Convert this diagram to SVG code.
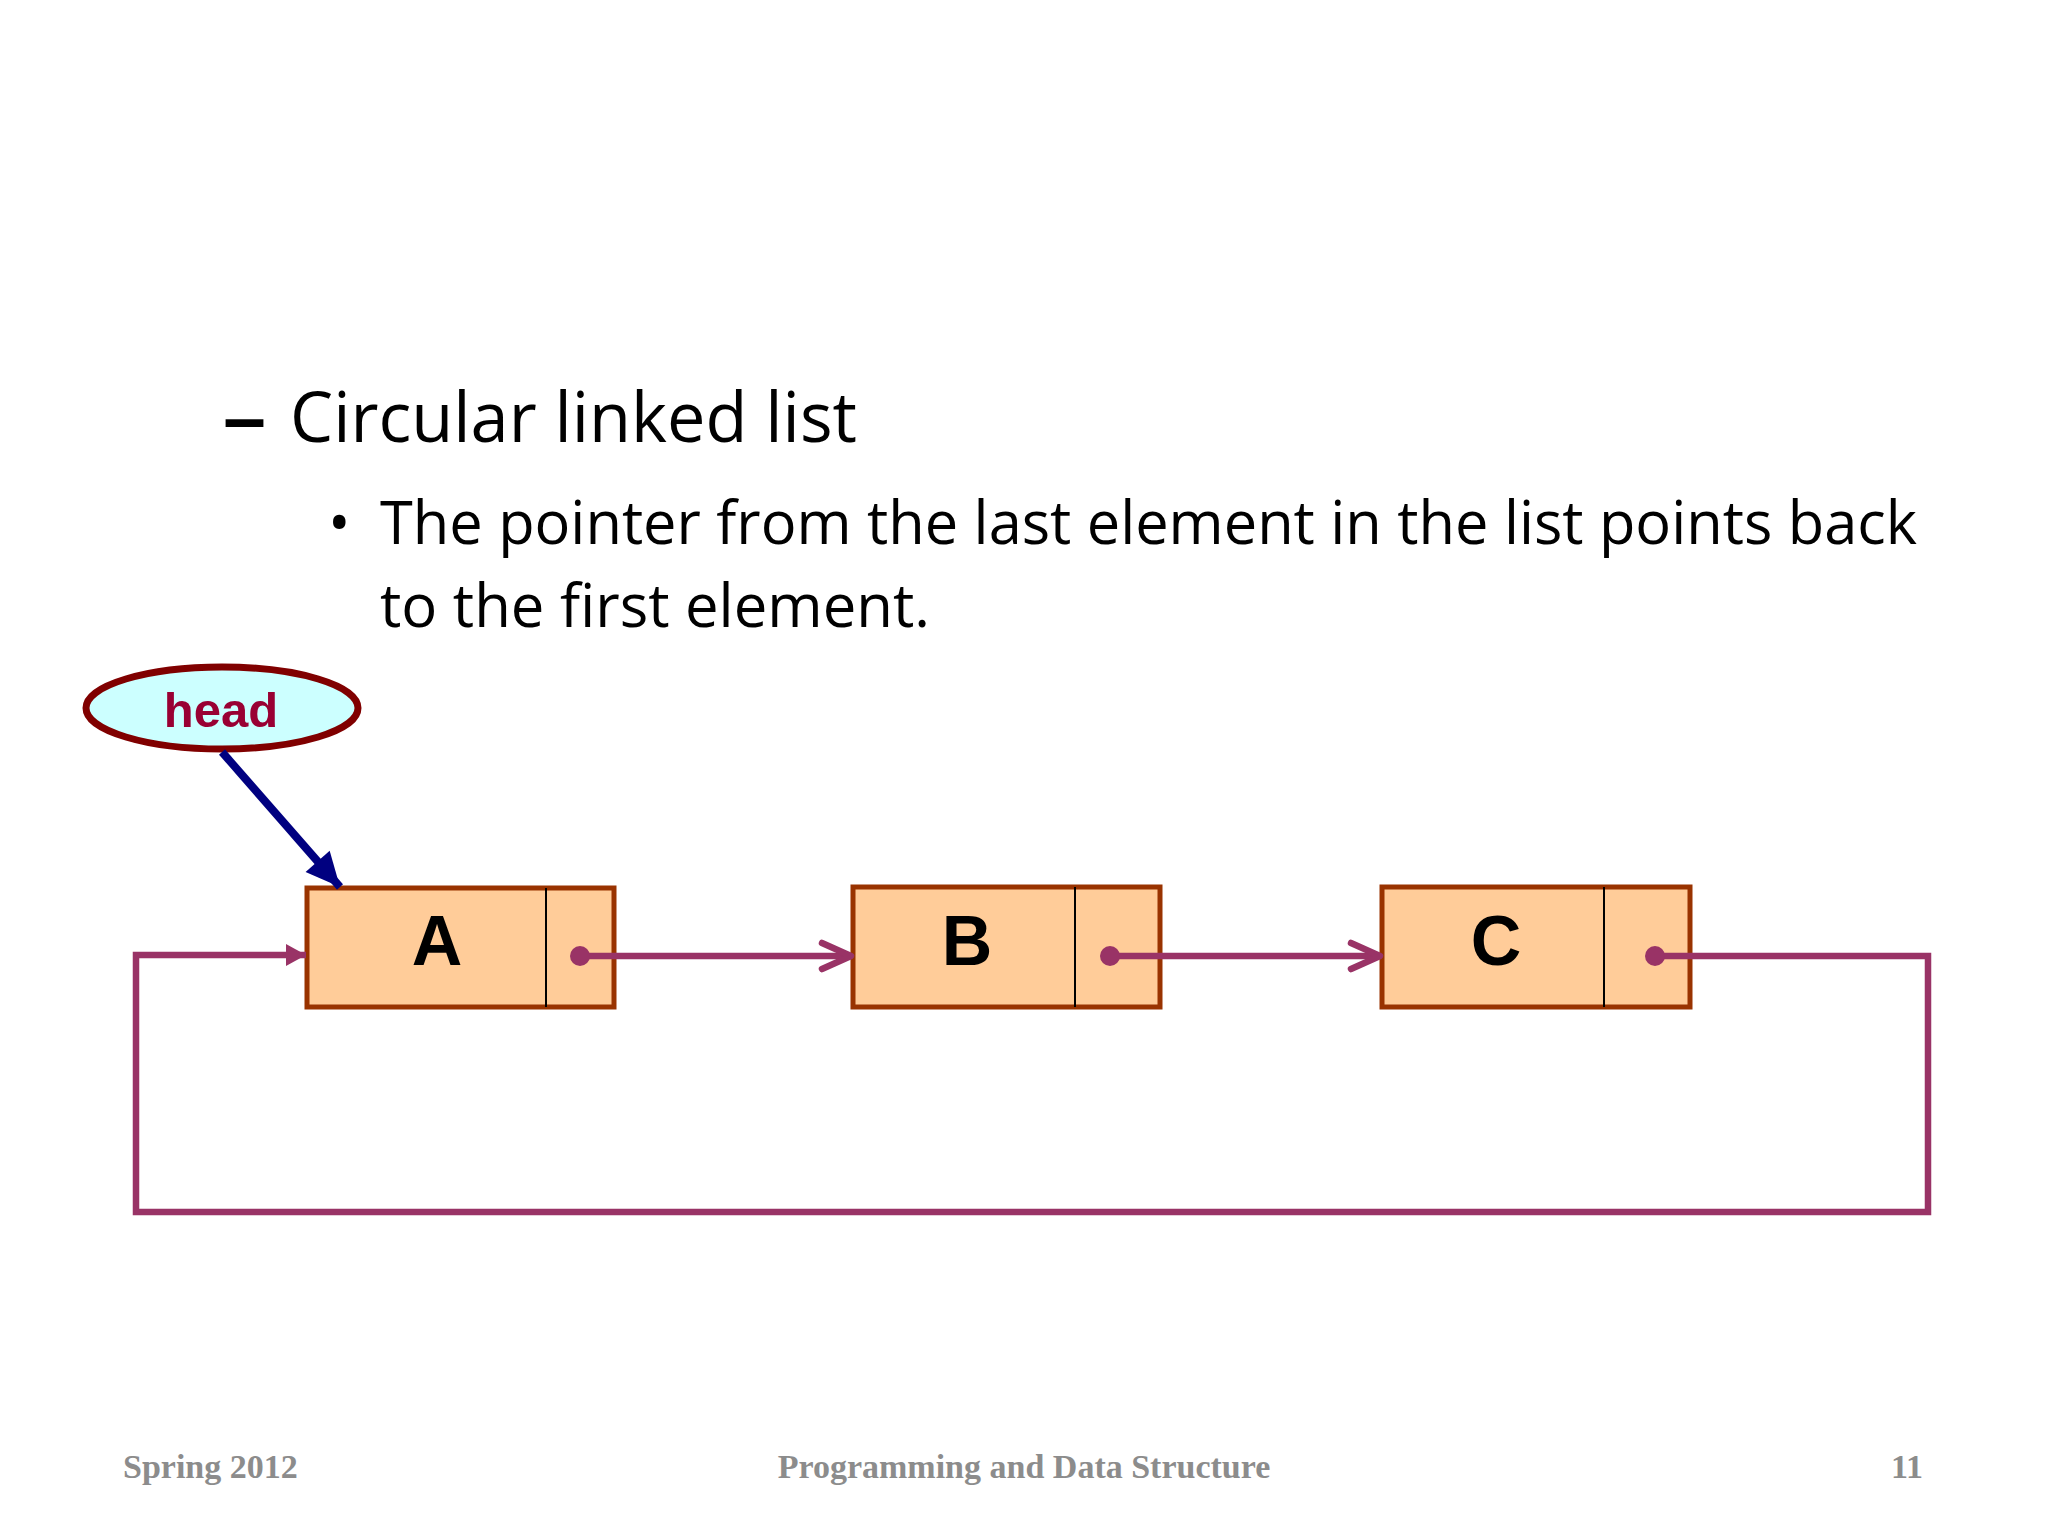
<svg xmlns="http://www.w3.org/2000/svg" width="2048" height="1536" viewBox="0 0 2048 1536">
<style>
.body{font-family:"Open Sans","Liberation Sans",sans-serif;fill:#000}
.box{fill:#FFCC99;stroke:#993300;stroke-width:5}
.div{stroke:#000;stroke-width:2}
.lbl{font-family:"Liberation Sans",Arial,sans-serif;font-weight:bold;font-size:70px;text-anchor:middle;fill:#000}
.link{fill:none;stroke:#993366;stroke-width:6.5}
.dot{fill:#993366}
.foot{font-family:"Liberation Serif","Times New Roman",serif;font-weight:bold;font-size:34px;fill:#8c8c8c}
</style>
<defs>
<marker id="chev" viewBox="0 0 40 40" refX="34" refY="20" markerUnits="userSpaceOnUse" markerWidth="40" markerHeight="40" orient="auto">
<path d="M5,7 L34,20 L5,33" fill="none" stroke="#993366" stroke-width="6.5" stroke-linecap="round" stroke-linejoin="round"/>
</marker>
<marker id="tri" viewBox="0 0 30 30" refX="22" refY="15" markerUnits="userSpaceOnUse" markerWidth="30" markerHeight="30" orient="auto">
<path d="M2,4 L22,15 L2,26 Z" fill="#993366"/>
</marker>
<marker id="navy" viewBox="0 0 44 44" refX="38" refY="22" markerUnits="userSpaceOnUse" markerWidth="44" markerHeight="44" orient="auto">
<path d="M4,6 L38,22 L4,38 Z" fill="#000080"/>
</marker>
</defs>
<rect width="2048" height="1536" fill="#fff"/>
<g id="title">
<text class="body" x="222" y="442" font-size="70" font-weight="bold" textLength="45" lengthAdjust="spacingAndGlyphs">–</text>
<text class="body" x="290" y="442" font-size="70" textLength="567" lengthAdjust="spacingAndGlyphs">Circular linked list</text>
<text class="body" x="328" y="544" font-size="60">•</text>
<text class="body" x="380" y="544" font-size="60" textLength="1537" lengthAdjust="spacingAndGlyphs">The pointer from the last element in the list points back</text>
<text class="body" x="380" y="627" font-size="60" textLength="550" lengthAdjust="spacingAndGlyphs">to the first element.</text>
</g>
<g id="head">
<ellipse cx="222" cy="708" rx="136" ry="41" fill="#CCFFFF" stroke="#800000" stroke-width="7"/>
<text x="221" y="727" font-family="Liberation Sans,Arial,sans-serif" font-weight="bold" font-size="49" text-anchor="middle" fill="#990033">head</text>
</g>
<g id="nodeA">
<rect class="box" x="307" y="888" width="307" height="119"/>
<line class="div" x1="546" y1="888" x2="546" y2="1007"/>
<text class="lbl" x="437" y="965">A</text>
</g>
<g id="nodeB">
<rect class="box" x="853" y="887" width="307" height="120"/>
<line class="div" x1="1075" y1="887" x2="1075" y2="1007"/>
<text class="lbl" x="967" y="965">B</text>
</g>
<g id="nodeC">
<rect class="box" x="1382" y="887" width="308" height="120"/>
<line class="div" x1="1604" y1="887" x2="1604" y2="1007"/>
<text class="lbl" x="1496" y="965">C</text>
</g>
<g id="connectors">
<line x1="222" y1="752" x2="340" y2="887" stroke="#000080" stroke-width="8" marker-end="url(#navy)"/>
<line class="link" x1="580" y1="956" x2="851" y2="956" marker-end="url(#chev)"/>
<line class="link" x1="1110" y1="956" x2="1380" y2="956" marker-end="url(#chev)"/>
<polyline class="link" points="1655,956 1928,956 1928,1212 136,1212 136,955 306,955" marker-end="url(#tri)"/>
<circle class="dot" cx="580" cy="956" r="10"/>
<circle class="dot" cx="1110" cy="956" r="10"/>
<circle class="dot" cx="1655" cy="956" r="10"/>
</g>
<g id="footer">
<text class="foot" x="123" y="1478">Spring 2012</text>
<text class="foot" x="1024" y="1478" text-anchor="middle">Programming and Data Structure</text>
<text class="foot" x="1923" y="1478" text-anchor="end">11</text>
</g>
</svg>
